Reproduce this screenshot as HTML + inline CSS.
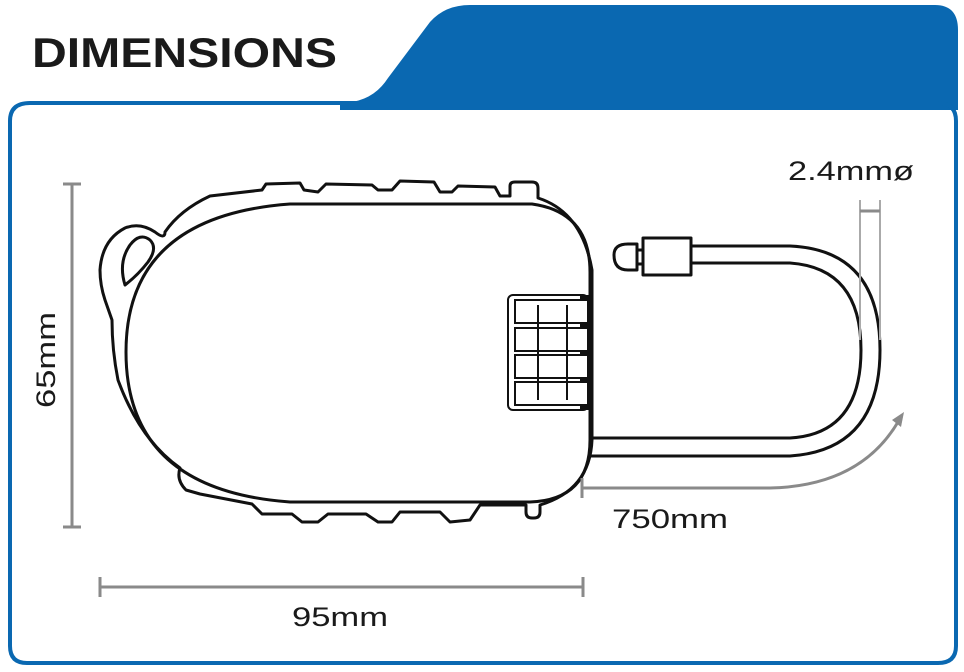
<!DOCTYPE html>
<html><head><meta charset="utf-8"><style>
html,body{margin:0;padding:0;background:#fff;}
svg{display:block;}
text{font-family:"Liberation Sans",sans-serif;}
</style></head><body>
<svg width="964" height="672" viewBox="0 0 964 672" xmlns="http://www.w3.org/2000/svg">
<path d="M340 103 Q372 103 388 78 L430 22 Q445 5 470 5 L935 5 Q958 5 958 30 L958 110 L340 110 Z" fill="#0a68b1"/>
<path d="M30 103 L938 103 Q956 103 956 121 L956 646 Q956 663 938 663 L27 663 Q10 663 10 646 L10 121 Q10 103 30 103 Z" fill="none" stroke="#0a68b1" stroke-width="4"/>
<text x="32" y="67" font-size="42" font-weight="bold" fill="#1a1a1a" textLength="305" lengthAdjust="spacingAndGlyphs">DIMENSIONS</text>

<g fill="none" stroke="#111" stroke-width="3" stroke-linejoin="round">
<path d="M210 196 L262 190 L266 184 L300 183 L304 190 L318 192 L326 184 L372 185 L378 190 L392 190 L400 181 L434 182 L440 192 L452 192 L458 186 L495 187 L500 196 L510 196 L510 186 Q510 182 515 182 L532 182 Q538 182 538 188 L538 198 Q582 212 592 270 L592 440 Q590 490 540 505 L540 512 Q540 518 534 518 L532 518 Q526 518 526 512 L526 505 L480 505 L470 520 L450 522 L440 512 L400 512 L392 522 L378 522 L366 514 L328 514 L318 522 L302 522 L292 514 L262 514 L252 504 L200 494 L186 490 Q176 480 180 468 Q140 440 118 380 Q112 350 112 320 L105 300 Q100 285 100 270 Q102 240 125 228 Q140 222 155 232 Q165 240 165 232 Q180 210 210 196 Z"/>
<path d="M125 285 Q118 262 130 245 Q140 232 150 240 Q158 248 148 262 Q138 275 125 285 Z"/>
<path d="M290 204 L532 204 Q590 212 590 272 L590 440 Q590 500 530 502 L290 502 Q126 490 126 352 Q126 216 290 204 Z"/>
<path d="M692 246 L790 246 Q880 250 880 350 Q880 450 790 456 L588 456"/>
<path d="M692 263 L790 263 Q861 268 861 350 Q861 434 790 438 L592 438"/>
<rect x="643" y="238" width="48" height="37"/>
<path d="M637 244 L628 244 Q614 244 614 255 Q614 270 628 270 L637 270 Z"/>
<line x1="637" y1="250" x2="643" y2="250"/><line x1="637" y1="264" x2="643" y2="264"/>
</g>
<g fill="none" stroke="#111" stroke-width="2">
<rect x="508" y="295" width="80" height="115" rx="5"/>
<rect x="515" y="300" width="75" height="23"/>
<rect x="515" y="328" width="75" height="23"/>
<rect x="515" y="355" width="75" height="23"/>
<rect x="515" y="382" width="75" height="23"/>
<line x1="538" y1="305" x2="538" y2="400"/>
<line x1="567" y1="305" x2="567" y2="400"/>
</g>
<g fill="#111"><rect x="580" y="295" width="10" height="6"/><rect x="580" y="323" width="10" height="5"/><rect x="580" y="351" width="10" height="5"/><rect x="580" y="378" width="10" height="5"/><rect x="580" y="405" width="10" height="5"/></g>

<g stroke="#8a8a8a" stroke-width="3" fill="none">
<line x1="72" y1="184" x2="72" y2="527"/>
<line x1="63" y1="184" x2="81" y2="184"/><line x1="63" y1="527" x2="81" y2="527"/>
<line x1="100" y1="587" x2="583" y2="587"/>
<line x1="100" y1="577" x2="100" y2="597"/><line x1="583" y1="577" x2="583" y2="597"/>
<line x1="582" y1="478" x2="582" y2="498"/>
<path d="M582 488 L770 488 Q860 486 898 422"/>
<line x1="860" y1="200" x2="860" y2="340" stroke-width="2" stroke="#aaa"/>
<line x1="880" y1="200" x2="880" y2="340" stroke-width="2" stroke="#aaa"/>
<line x1="860" y1="211" x2="880" y2="211"/>
</g>
<path d="M904 412 L892 420 L901 427 Z" fill="#8a8a8a"/>

<g fill="#1a1a1a" font-size="27">
<text x="292" y="626" textLength="96" lengthAdjust="spacingAndGlyphs">95mm</text>
<text x="612" y="528" textLength="116" lengthAdjust="spacingAndGlyphs">750mm</text>
<text x="788" y="180" textLength="126" lengthAdjust="spacingAndGlyphs">2.4mmø</text>
<text transform="translate(55,360) rotate(-90)" text-anchor="middle" textLength="96" lengthAdjust="spacingAndGlyphs">65mm</text>
</g>
</svg>
</body></html>
